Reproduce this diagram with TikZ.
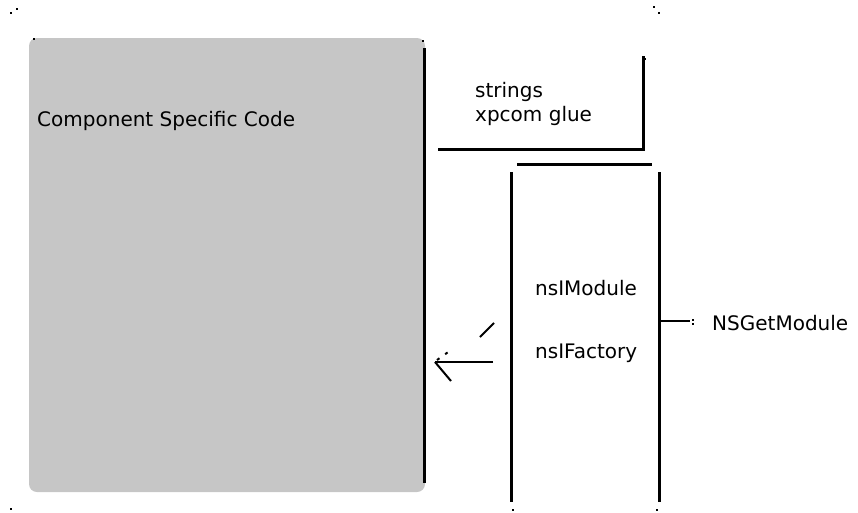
\documentclass[tikz,border=0pt]{standalone}
\usepackage{fontspec}
\setmainfont{DejaVu Sans}
\definecolor{codegrey}{HTML}{C6C6C6}
\begin{document}
\begin{tikzpicture}[x=1pt,y=-1pt,
  wall/.style={line width=3pt},
  lbl/.style={anchor=base west,inner sep=0pt,font=\fontsize{20}{24}\selectfont},
  speck/.style={fill=black},
]
\useasboundingbox (0,0) rectangle (858,512);

% component body
\fill[codegrey,rounded corners=8pt] (29,38) rectangle (425,492);
\draw[wall] (424,48) -- (424,483);
\node[lbl] (csc) at (37,126) {Component Specific Code};

% strings / xpcom glue corner
\coordinate (gl) at (438,149);
\coordinate (gc) at (643,149);
\coordinate (gt) at (643,56);
\draw[wall] (gl) -- (gc) -- (gt);
\node[lbl] (strings) at (475,97) {strings};
\node[lbl] (glue) at (475,121) {xpcom glue};

% module column
\coordinate (mt1) at (517,164);
\coordinate (mt2) at (652,164);
\draw[wall] (mt1) -- (mt2);
\coordinate (ml1) at (511,172);
\coordinate (ml2) at (511,502);
\coordinate (mr1) at (659,172);
\coordinate (mr2) at (659,502);
\draw[wall] (ml1) -- (ml2);
\draw[wall] (mr1) -- (mr2);
\node[lbl] (imod) at (535,295) {nsIModule};
\node[lbl] (ifac) at (535,358) {nsIFactory};

% exported entry point
\node[lbl] (nsget) at (712,330) {NSGetModule};
\coordinate (ep) at (659,321);
\coordinate (ee) at (690,321);
\draw[line width=2pt] (ep) -- (ee);
\fill (692,319) rectangle (694,321);
\fill (692,323) rectangle (694,325);

% arrow into the component code
\coordinate (as) at (493,362);
\coordinate (ae) at (435,362);
\draw[line width=2pt] (as) -- (ae);
\draw[line width=2pt] (ae) -- (451,381);
\draw[line width=2pt,dash pattern=on 3pt off 7pt] (437,360) -- (451,350);
\draw[line width=2pt] (480,337) -- (494,323);

% corner specks
\foreach \x/\y in {10/12,16/8,653/6,658/12,644/58,10/508,512/509,656/509,33/38,422/40}
  \fill[speck] (\x,\y) rectangle ++(2,2);
\end{tikzpicture}
\end{document}
